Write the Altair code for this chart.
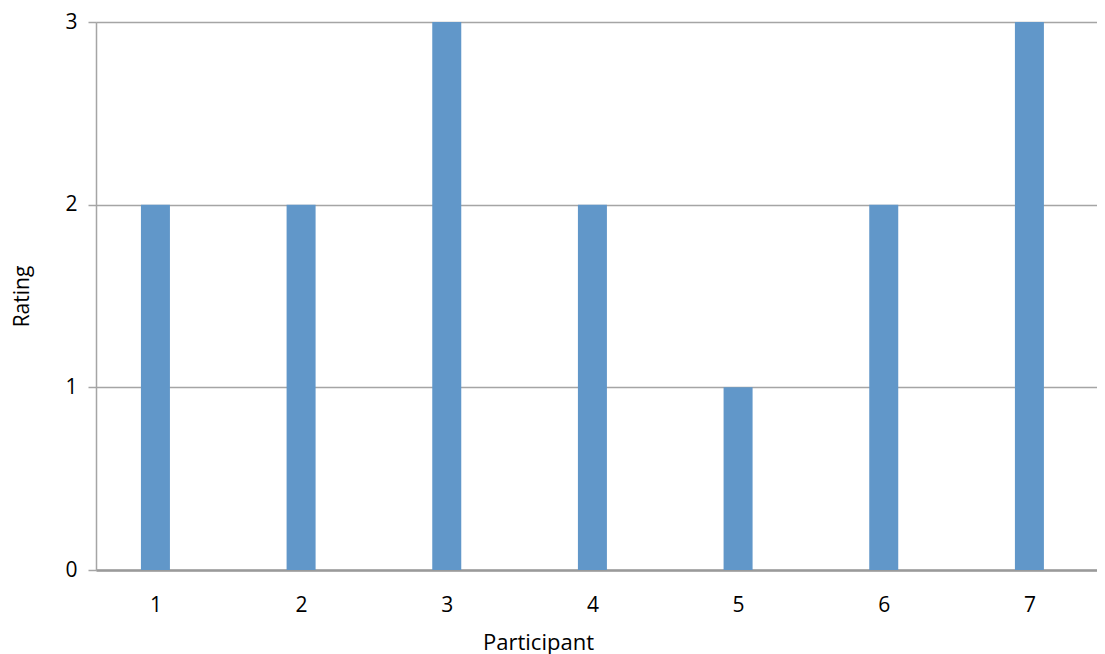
import altair as alt
import pandas as pd

participants = [1, 2, 3, 4, 5, 6, 7]
ratings = [2, 2, 3, 2, 1, 2, 3]

df = pd.DataFrame({"Participant": participants, "Rating": ratings})

FONT = "Open Sans"
GRID = "#a5a5a5"

chart = alt.Chart(df).mark_bar(size=29, color="#6197c9").encode(
    x=alt.X(
        "Participant:Q",
        scale=alt.Scale(domain=[0.592, 7.464], nice=False, zero=False, padding=0),
        axis=alt.Axis(
            values=participants,
            format="d",
            grid=False,
            ticks=False,
            domain=True,
            domainColor="#9a9a9a",
            domainWidth=2.5,
            labelFontSize=21,
            labelFont=FONT,
            labelColor="#000000",
            labelPadding=24,
            title="Participant",
            titleFont=FONT,
            titleFontSize=22,
            titleFontWeight="normal",
            titleColor="#000000",
            titleX=442,
            titlePadding=17,
        ),
    ),
    y=alt.Y(
        "Rating:Q",
        scale=alt.Scale(domain=[0, 3], nice=False, padding=0),
        axis=alt.Axis(
            values=[0, 1, 2, 3],
            format="d",
            grid=True,
            gridColor=GRID,
            gridWidth=1.5,
            domain=True,
            domainColor=GRID,
            domainWidth=1.5,
            ticks=True,
            tickSize=8,
            tickColor=GRID,
            tickWidth=1.5,
            labelFontSize=21,
            labelFont=FONT,
            labelColor="#000000",
            labelPadding=11,
            title="Rating",
            titleFont=FONT,
            titleFontSize=21,
            titleFontWeight="normal",
            titleColor="#000000",
            titlePadding=32,
        ),
    ),
).properties(
    width=1001,
    height=548,
    autosize=alt.AutoSizeParams(type="none"),
    padding={"left": 88, "top": 14, "right": 0, "bottom": 84},
).configure_view(stroke=None).configure(background="white")

chart.save("out.html", embed_options={"renderer": "svg", "actions": False})
